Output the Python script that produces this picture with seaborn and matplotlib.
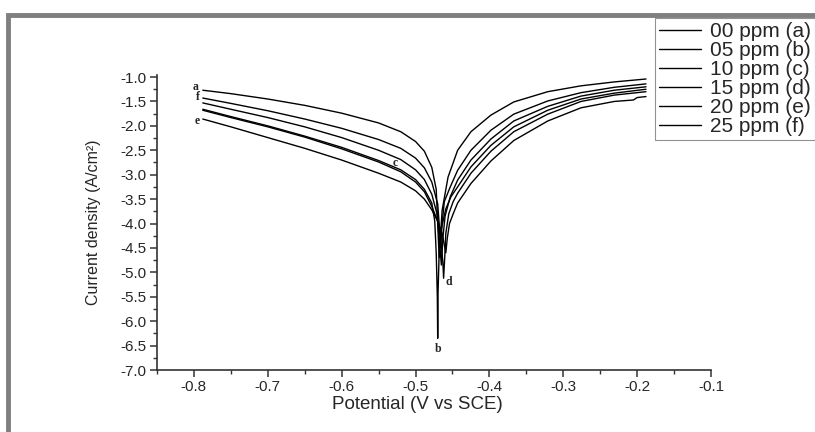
import matplotlib
matplotlib.use("Agg")
import pandas as pd
import matplotlib.pyplot as plt
import seaborn as sns
from matplotlib.patches import Rectangle
from matplotlib.ticker import MultipleLocator

# Tafel curves: potential (V vs SCE) and log current density
conc_labels = ['00 ppm (a)', '05 ppm (b)', '10 ppm (c)', '15 ppm (d)', '20 ppm (e)', '25 ppm (f)']

# cathodic part shared potentials, anodic part shared potentials
cath_pot = [-0.788, -0.75, -0.70, -0.65, -0.60, -0.55, -0.52, -0.50, -0.488, -0.478]
anod_pot = [-0.443, -0.425, -0.398, -0.367, -0.321, -0.276, -0.231]

pot_a = cath_pot + [-0.472, -0.470, -0.468, -0.466, -0.464, -0.456] + anod_pot + [-0.188]
cur_a = [-1.27, -1.34, -1.45, -1.58, -1.74, -1.94, -2.12, -2.32, -2.52, -2.85,
         -3.30, -4.00, -4.70, -4.20, -3.73, -3.05,
         -2.50, -2.12, -1.78, -1.51, -1.30, -1.18, -1.10, -1.04]

pot_b = cath_pot + [-0.474, -0.472, -0.4705, -0.470, -0.4695, -0.468, -0.465, -0.459,
                    -0.452] + anod_pot + [-0.188]
cur_b = [-1.66, -1.81, -2.00, -2.21, -2.44, -2.71, -2.90, -3.10, -3.30, -3.58,
         -3.95, -4.60, -5.50, -6.35, -5.40, -4.60, -4.10, -3.70, -3.45,
         -3.25, -2.84, -2.40, -2.02, -1.68, -1.45, -1.33, -1.25]

pot_c = cath_pot + [-0.471, -0.468, -0.465, -0.463, -0.460, -0.453] + anod_pot + [-0.188]
cur_c = [-1.53, -1.66, -1.83, -2.02, -2.24, -2.50, -2.69, -2.90, -3.10, -3.40,
         -3.80, -4.30, -4.85, -4.30, -3.85, -3.45,
         -3.11, -2.70, -2.27, -1.90, -1.60, -1.39, -1.27, -1.20]

pot_d = cath_pot + [-0.470, -0.466, -0.463, -0.462, -0.4605, -0.459, -0.455,
                    -0.449] + anod_pot + [-0.188]
cur_d = [-1.68, -1.83, -2.02, -2.23, -2.47, -2.74, -2.94, -3.15, -3.35, -3.65,
         -3.95, -4.30, -4.80, -5.12, -4.70, -4.20, -3.80, -3.55,
         -3.38, -2.97, -2.52, -2.12, -1.76, -1.50, -1.37, -1.30]

pot_e = cath_pot + [-0.470, -0.464, -0.459, -0.457, -0.454, -0.449] + anod_pot + \
        [-0.205, -0.200, -0.188]
cur_e = [-1.86, -2.02, -2.24, -2.46, -2.70, -2.97, -3.15, -3.33, -3.50, -3.72,
         -3.95, -4.20, -4.60, -4.30, -4.00, -3.80,
         -3.58, -3.18, -2.72, -2.30, -1.90, -1.63, -1.50, -1.47, -1.42, -1.40]

pot_f = cath_pot + [-0.470, -0.468, -0.466, -0.464, -0.461, -0.453] + anod_pot + [-0.188]
cur_f = [-1.43, -1.54, -1.69, -1.86, -2.05, -2.28, -2.46, -2.66, -2.86, -3.15,
         -3.60, -4.00, -4.50, -4.00, -3.55, -3.25,
         -2.91, -2.50, -2.09, -1.76, -1.49, -1.32, -1.21, -1.14]

curve_letters = ['a', 'b', 'c', 'd', 'e', 'f']
letter_x = [-0.798, -0.470, -0.527, -0.455, -0.796, -0.794]
letter_y = [-1.20, -6.57, -2.76, -5.20, -1.90, -1.41]

pots = [pot_a, pot_b, pot_c, pot_d, pot_e, pot_f]
curs = [cur_a, cur_b, cur_c, cur_d, cur_e, cur_f]
frames = []
for lab, p, c in zip(conc_labels, pots, curs):
    frames.append(pd.DataFrame({'Potential': p, 'Current': c, 'Conc': lab}))
df = pd.concat(frames, ignore_index=True)

sns.set_style("ticks")
plt.rcParams['font.family'] = ['Liberation Sans', 'DejaVu Sans']
plt.rcParams['axes.unicode_minus'] = False

fig = plt.figure(figsize=(8.15, 4.32), dpi=100)
ax = fig.add_axes([157 / 815, 1 - 370 / 432, 554 / 815, (370 - 74.6) / 432])

sns.lineplot(data=df, x='Potential', y='Current', hue='Conc', hue_order=conc_labels,
             palette={k: 'black' for k in conc_labels}, estimator=None, sort=False,
             lw=1.0, ax=ax, legend=True)

for lt, lx, ly in zip(curve_letters, letter_x, letter_y):
    ax.text(lx, ly, lt, family='Liberation Serif', weight='bold', fontsize=8.5,
            ha='center', va='center')

ax.set_xlim(-0.85, -0.1)
ax.set_ylim(-7.0, -0.95)
ax.xaxis.set_major_locator(MultipleLocator(0.1))
ax.xaxis.set_minor_locator(MultipleLocator(0.05))
ax.yaxis.set_major_locator(MultipleLocator(0.5))
ax.yaxis.set_minor_locator(MultipleLocator(0.25))
ax.tick_params(which='major', direction='out', length=5, width=1.1, labelsize=11,
               color='#333333', pad=2.5)
ax.tick_params(which='minor', direction='out', length=3, width=1.0, color='#333333')

for s in ['top', 'right']:
    ax.spines[s].set_visible(False)
for s in ['left', 'bottom']:
    ax.spines[s].set_linewidth(1.2)
    ax.spines[s].set_color('#333333')

ax.set_xlabel('Potential (V vs SCE)', fontsize=13.5)
ax.set_ylabel('Current density (A/cm²)', fontsize=11.5)
ax.xaxis.set_label_coords(0.47, -0.088)
ax.yaxis.set_label_coords(-0.101, 0.5)

# legend hangs off the right edge like in the cropped original
handles, labels = ax.get_legend_handles_labels()
ax.legend_.remove()
leg = fig.legend(handles, labels, loc='upper left', bbox_to_anchor=(655 / 815, 1 - 18 / 432),
                 frameon=True, fancybox=False, fontsize=15, handlelength=2.0,
                 handletextpad=0.45, labelspacing=0.0, borderpad=0.2, borderaxespad=0)
leg.get_frame().set_edgecolor('#777777')
leg.get_frame().set_linewidth(0.8)

# grey outer frame of the original figure (only top and left visible)
fig.patches.append(Rectangle((8 / 815, -0.2), 1.5, 1.2 - 15 / 432, transform=fig.transFigure,
                             fill=False, edgecolor='#7f7f7f', lw=3.5, clip_on=False))

fig.savefig('out.png', dpi=100)
